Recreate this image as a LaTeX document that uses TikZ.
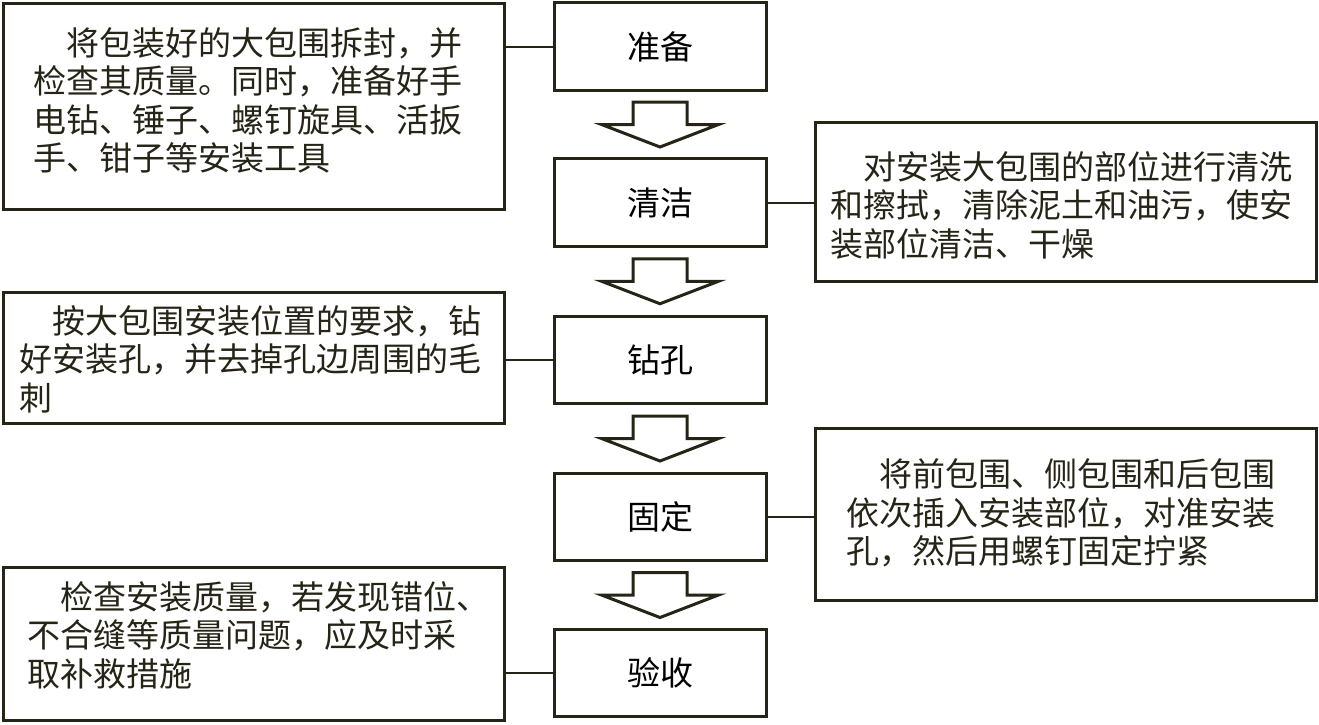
\documentclass[tikz,border=0pt]{standalone}
\usepackage{fontspec}
\setmainfont{Noto Sans CJK SC}
\usetikzlibrary{calc}
\definecolor{ink}{RGB}{38,36,22}
\tikzset{
  stepbox/.style={draw=ink, line width=3pt, minimum width=212pt, minimum height=87.5pt, inner sep=0pt},
  notebox/.style={draw=ink, line width=3pt, minimum width=501pt, inner sep=0pt},
  notetext/.style={anchor=west, align=left, inner sep=0pt, text=ink},
  link/.style={draw=ink, line width=2pt},
  flowarrow/.pic={\draw[ink, line width=3pt, fill=white]
    (-27,-22.5) -- (27,-22.5) -- (27,0) -- (58.5,0) -- (0,22.5) -- (-58.5,0) -- (-27,0) -- cycle;}
}
\begin{document}
\begin{tikzpicture}[x=1pt, y=-1pt, font=\fontsize{33}{38.5}\selectfont]
  \useasboundingbox (0,0) rectangle (1319,724);
  % steps down the middle
  \node[stepbox] (prep)  at (660,46.5) {准备};
  \node[stepbox] (clean) at (660,202.5) {清洁};
  \node[stepbox] (drill) at (660,360) {钻孔};
  \node[stepbox] (fix)   at (660,517) {固定};
  \node[stepbox] (check) at (660,673) {验收};
  % hollow arrows between steps
  \pic at ($(prep.south)!0.5!(clean.north)$) {flowarrow};
  \pic at ($(clean.south)!0.5!(drill.north)$) {flowarrow};
  \pic at ($(drill.south)!0.5!(fix.north)$) {flowarrow};
  \pic at ($(fix.south)!0.5!(check.north)$) {flowarrow};
  % notes
  \node[notebox, minimum height=206pt] (prepnote)  at (253.5,106) {};
  \node[notebox, minimum height=159pt] (cleannote) at (1065.5,201.5) {};
  \node[notebox, minimum height=131pt] (drillnote) at (253.5,357.5) {};
  \node[notebox, minimum height=172pt] (fixnote)   at (1065.5,514) {};
  \node[notebox, minimum height=153pt] (checknote) at (253.5,643.5) {};
  \node[notetext] (preptext) at (33,100.5)
    {\hspace*{1em}将包装好的大包围拆封，并\\检查其质量。同时，准备好手\\电钻、锤子、螺钉旋具、活扳\\手、钳子等安装工具};
  \node[notetext] (cleantext) at (830,205)
    {\hspace*{1em}对安装大包围的部位进行清洗\\和擦拭，清除泥土和油污，使安\\装部位清洁、干燥};
  \node[notetext] (drilltext) at (19,359)
    {\hspace*{1em}按大包围安装位置的要求，钻\\好安装孔，并去掉孔边周围的毛\\刺};
  \node[notetext] (fixtext) at (846,513)
    {\hspace*{1em}将前包围、侧包围和后包围\\依次插入安装部位，对准安装\\孔，然后用螺钉固定拧紧};
  \node[notetext] (checktext) at (27,635)
    {\hspace*{1em}检查安装质量，若发现错位、\\不合缝等质量问题，应及时采\\取补救措施};
  % links from notes to steps
  \draw[link] (prep.west) -- (prep.west -| prepnote.east);
  \draw[link] (clean.east) -- (clean.east -| cleannote.west);
  \draw[link] (drill.west) -- (drill.west -| drillnote.east);
  \draw[link] (fix.east) -- (fix.east -| fixnote.west);
  \draw[link] (check.west) -- (check.west -| checknote.east);
\end{tikzpicture}
\end{document}
